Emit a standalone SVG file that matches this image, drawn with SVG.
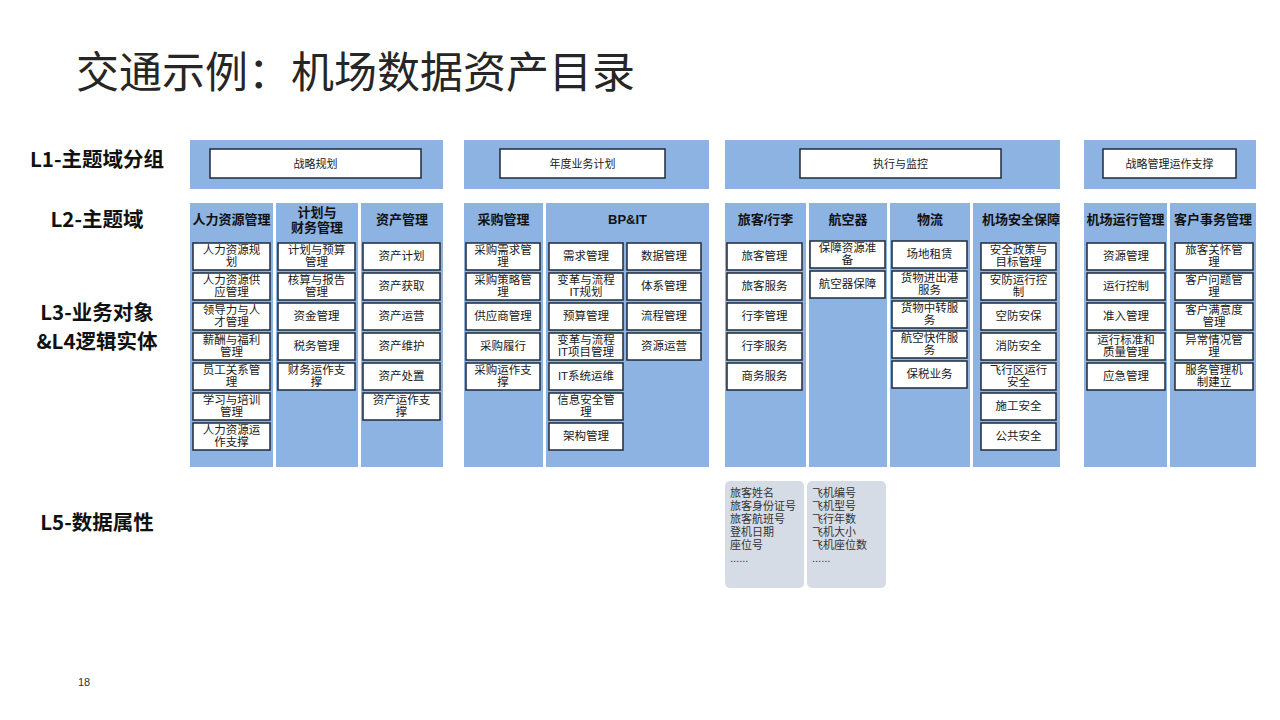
<svg xmlns="http://www.w3.org/2000/svg" width="1280" height="720" viewBox="0 0 1280 720">
<style>
text{font-family:"Liberation Sans","Noto Sans CJK SC",sans-serif;fill:#1a1a1a}
.title{font-family:"Noto Sans CJK SC",sans-serif;font-size:43px;fill:#262626}
.lvl{font-family:"Noto Sans CJK SC",sans-serif;font-size:20.5px;font-weight:bold;text-anchor:middle;fill:#111}
.band{fill:#8db3e2}
.l1box{fill:#fff;stroke:#1f2a38;stroke-width:1.5}
.l1t{font-size:11px;text-anchor:middle}
.hd{font-size:13px;font-weight:bold;text-anchor:middle;fill:#111}
.it rect{fill:#fff;stroke:#1f2a38;stroke-width:1.5}
.it text{font-size:11.5px;text-anchor:middle}
.attr{fill:#d6dce5}
.at{font-size:11px;fill:#333}
.pg{font-size:11px;fill:#333}
</style>
<text class="title" x="76" y="88">交通示例：机场数据资产目录</text>
<g id="levels">
<text class="lvl" x="97" y="167">L1-主题域分组</text>
<text class="lvl" x="97" y="227">L2-主题域</text>
<text class="lvl" x="97" y="320">L3-业务对象</text>
<text class="lvl" x="97" y="349">&amp;L4逻辑实体</text>
<text class="lvl" x="97" y="530">L5-数据属性</text>
</g>
<g id="l1">
<rect class="band" x="190" y="140" width="253" height="49"/>
<rect class="l1box" x="210" y="149" width="211" height="29"/>
<text class="l1t" x="315.5" y="167.5">战略规划</text>
<rect class="band" x="464" y="140" width="245" height="49"/>
<rect class="l1box" x="500" y="149" width="165" height="29"/>
<text class="l1t" x="582.5" y="167.5">年度业务计划</text>
<rect class="band" x="725" y="140" width="335" height="49"/>
<rect class="l1box" x="800" y="149" width="201" height="29"/>
<text class="l1t" x="900.5" y="167.5">执行与监控</text>
<rect class="band" x="1084" y="140" width="172" height="49"/>
<rect class="l1box" x="1103" y="149" width="133" height="29"/>
<text class="l1t" x="1169.5" y="167.5">战略管理运作支撑</text>
</g>
<g id="l2cols">
<rect class="band" x="190" y="203" width="83" height="264"/>
<rect class="band" x="276" y="203" width="82" height="264"/>
<rect class="band" x="361" y="203" width="82" height="264"/>
<rect class="band" x="464" y="203" width="79" height="264"/>
<rect class="band" x="546" y="203" width="163" height="264"/>
<rect class="band" x="725" y="203" width="81" height="264"/>
<rect class="band" x="809" y="203" width="78" height="264"/>
<rect class="band" x="890" y="203" width="80" height="264"/>
<rect class="band" x="973" y="203" width="87" height="264"/>
<rect class="band" x="1084" y="203" width="83" height="264"/>
<rect class="band" x="1170" y="203" width="86" height="264"/>
<text class="hd" x="231.5" y="224">人力资源管理</text>
<text class="hd" x="317" y="217">计划与</text>
<text class="hd" x="317" y="232">财务管理</text>
<text class="hd" x="402" y="224">资产管理</text>
<text class="hd" x="503.5" y="224">采购管理</text>
<text class="hd" x="627.5" y="224">BP&amp;IT</text>
<text class="hd" x="765.5" y="224">旅客/行李</text>
<text class="hd" x="848" y="224">航空器</text>
<text class="hd" x="930" y="224">物流</text>
<text class="hd" x="1021" y="224">机场安全保障</text>
<text class="hd" x="1125.5" y="224">机场运行管理</text>
<text class="hd" x="1213" y="224">客户事务管理</text>
</g>
<g id="col-hr" class="it">
<rect x="193" y="243" width="77" height="27"/><text x="231.5" y="254">人力资源规</text><text x="231.5" y="266">划</text>
<rect x="193" y="273" width="77" height="27"/><text x="231.5" y="284">人力资源供</text><text x="231.5" y="296">应管理</text>
<rect x="193" y="303" width="77" height="27"/><text x="231.5" y="314">领导力与人</text><text x="231.5" y="326">才管理</text>
<rect x="193" y="333" width="77" height="27"/><text x="231.5" y="344">薪酬与福利</text><text x="231.5" y="356">管理</text>
<rect x="193" y="363" width="77" height="27"/><text x="231.5" y="374">员工关系管</text><text x="231.5" y="386">理</text>
<rect x="193" y="393" width="77" height="27"/><text x="231.5" y="404">学习与培训</text><text x="231.5" y="416">管理</text>
<rect x="193" y="423" width="77" height="27"/><text x="231.5" y="434">人力资源运</text><text x="231.5" y="446">作支撑</text>
</g>
<g id="col-fin" class="it">
<rect x="278" y="243" width="77" height="27"/><text x="316.5" y="254">计划与预算</text><text x="316.5" y="266">管理</text>
<rect x="278" y="273" width="77" height="27"/><text x="316.5" y="284">核算与报告</text><text x="316.5" y="296">管理</text>
<rect x="278" y="303" width="77" height="27"/><text x="316.5" y="320">资金管理</text>
<rect x="278" y="333" width="77" height="27"/><text x="316.5" y="350">税务管理</text>
<rect x="278" y="363" width="77" height="27"/><text x="316.5" y="374">财务运作支</text><text x="316.5" y="386">撑</text>
</g>
<g id="col-asset" class="it">
<rect x="363" y="243" width="77" height="27"/><text x="401.5" y="260">资产计划</text>
<rect x="363" y="273" width="77" height="27"/><text x="401.5" y="290">资产获取</text>
<rect x="363" y="303" width="77" height="27"/><text x="401.5" y="320">资产运营</text>
<rect x="363" y="333" width="77" height="27"/><text x="401.5" y="350">资产维护</text>
<rect x="363" y="363" width="77" height="27"/><text x="401.5" y="380">资产处置</text>
<rect x="363" y="393" width="77" height="27"/><text x="401.5" y="404">资产运作支</text><text x="401.5" y="416">撑</text>
</g>
<g id="col-proc" class="it">
<rect x="466" y="243" width="74" height="27"/><text x="503" y="254">采购需求管</text><text x="503" y="266">理</text>
<rect x="466" y="273" width="74" height="27"/><text x="503" y="284">采购策略管</text><text x="503" y="296">理</text>
<rect x="466" y="303" width="74" height="27"/><text x="503" y="320">供应商管理</text>
<rect x="466" y="333" width="74" height="27"/><text x="503" y="350">采购履行</text>
<rect x="466" y="363" width="74" height="27"/><text x="503" y="374">采购运作支</text><text x="503" y="386">撑</text>
</g>
<g id="col-bpit" class="it">
<rect x="549" y="243" width="74" height="27"/><text x="586" y="260">需求管理</text>
<rect x="549" y="273" width="74" height="27"/><text x="586" y="284">变革与流程</text><text x="586" y="296">IT规划</text>
<rect x="549" y="303" width="74" height="27"/><text x="586" y="320">预算管理</text>
<rect x="549" y="333" width="74" height="27"/><text x="586" y="344">变革与流程</text><text x="586" y="356">IT项目管理</text>
<rect x="549" y="363" width="74" height="27"/><text x="586" y="380">IT系统运维</text>
<rect x="549" y="393" width="74" height="27"/><text x="586" y="404">信息安全管</text><text x="586" y="416">理</text>
<rect x="549" y="423" width="74" height="27"/><text x="586" y="440">架构管理</text>
<rect x="627" y="243" width="74" height="27"/><text x="664" y="260">数据管理</text>
<rect x="627" y="273" width="74" height="27"/><text x="664" y="290">体系管理</text>
<rect x="627" y="303" width="74" height="27"/><text x="664" y="320">流程管理</text>
<rect x="627" y="333" width="74" height="27"/><text x="664" y="350">资源运营</text>
</g>
<g id="col-pax" class="it">
<rect x="727" y="243" width="75" height="27"/><text x="764.5" y="260">旅客管理</text>
<rect x="727" y="273" width="75" height="27"/><text x="764.5" y="290">旅客服务</text>
<rect x="727" y="303" width="75" height="27"/><text x="764.5" y="320">行李管理</text>
<rect x="727" y="333" width="75" height="27"/><text x="764.5" y="350">行李服务</text>
<rect x="727" y="363" width="75" height="27"/><text x="764.5" y="380">商务服务</text>
</g>
<g id="col-aircraft" class="it">
<rect x="810" y="241" width="75" height="27"/><text x="847.5" y="252">保障资源准</text><text x="847.5" y="264">备</text>
<rect x="810" y="271" width="75" height="27"/><text x="847.5" y="288">航空器保障</text>
</g>
<g id="col-logistics" class="it">
<rect x="892" y="241" width="75" height="27"/><text x="929.5" y="258">场地租赁</text>
<rect x="892" y="271" width="75" height="27"/><text x="929.5" y="282">货物进出港</text><text x="929.5" y="294">服务</text>
<rect x="892" y="301" width="75" height="27"/><text x="929.5" y="312">货物中转服</text><text x="929.5" y="324">务</text>
<rect x="892" y="331" width="75" height="27"/><text x="929.5" y="342">航空快件服</text><text x="929.5" y="354">务</text>
<rect x="892" y="361" width="75" height="27"/><text x="929.5" y="378">保税业务</text>
</g>
<g id="col-safety" class="it">
<rect x="981" y="243" width="75" height="27"/><text x="1018.5" y="254">安全政策与</text><text x="1018.5" y="266">目标管理</text>
<rect x="981" y="273" width="75" height="27"/><text x="1018.5" y="284">安防运行控</text><text x="1018.5" y="296">制</text>
<rect x="981" y="303" width="75" height="27"/><text x="1018.5" y="320">空防安保</text>
<rect x="981" y="333" width="75" height="27"/><text x="1018.5" y="350">消防安全</text>
<rect x="981" y="363" width="75" height="27"/><text x="1018.5" y="374">飞行区运行</text><text x="1018.5" y="386">安全</text>
<rect x="981" y="393" width="75" height="27"/><text x="1018.5" y="410">施工安全</text>
<rect x="981" y="423" width="75" height="27"/><text x="1018.5" y="440">公共安全</text>
</g>
<g id="col-ops" class="it">
<rect x="1087" y="243" width="78" height="27"/><text x="1126" y="260">资源管理</text>
<rect x="1087" y="273" width="78" height="27"/><text x="1126" y="290">运行控制</text>
<rect x="1087" y="303" width="78" height="27"/><text x="1126" y="320">准入管理</text>
<rect x="1087" y="333" width="78" height="27"/><text x="1126" y="344">运行标准和</text><text x="1126" y="356">质量管理</text>
<rect x="1087" y="363" width="78" height="27"/><text x="1126" y="380">应急管理</text>
</g>
<g id="col-cust" class="it">
<rect x="1175" y="243" width="78" height="27"/><text x="1214" y="254">旅客关怀管</text><text x="1214" y="266">理</text>
<rect x="1175" y="273" width="78" height="27"/><text x="1214" y="284">客户问题管</text><text x="1214" y="296">理</text>
<rect x="1175" y="303" width="78" height="27"/><text x="1214" y="314">客户满意度</text><text x="1214" y="326">管理</text>
<rect x="1175" y="333" width="78" height="27"/><text x="1214" y="344">异常情况管</text><text x="1214" y="356">理</text>
<rect x="1175" y="363" width="78" height="27"/><text x="1214" y="374">服务管理机</text><text x="1214" y="386">制建立</text>
</g>
<g id="attr-pax">
<rect class="attr" x="725" y="481" width="79" height="107" rx="5"/>
<text class="at" x="730" y="497">旅客姓名</text>
<text class="at" x="730" y="510">旅客身份证号</text>
<text class="at" x="730" y="523">旅客航班号</text>
<text class="at" x="730" y="536">登机日期</text>
<text class="at" x="730" y="549">座位号</text>
<text class="at" x="730" y="562">......</text>
</g>
<g id="attr-aircraft">
<rect class="attr" x="807" y="481" width="79" height="107" rx="5"/>
<text class="at" x="812" y="497">飞机编号</text>
<text class="at" x="812" y="510">飞机型号</text>
<text class="at" x="812" y="523">飞行年数</text>
<text class="at" x="812" y="536">飞机大小</text>
<text class="at" x="812" y="549">飞机座位数</text>
<text class="at" x="812" y="562">......</text>
</g>
<g id="connectors"/>
<text class="pg" x="78" y="686">18</text>
</svg>
